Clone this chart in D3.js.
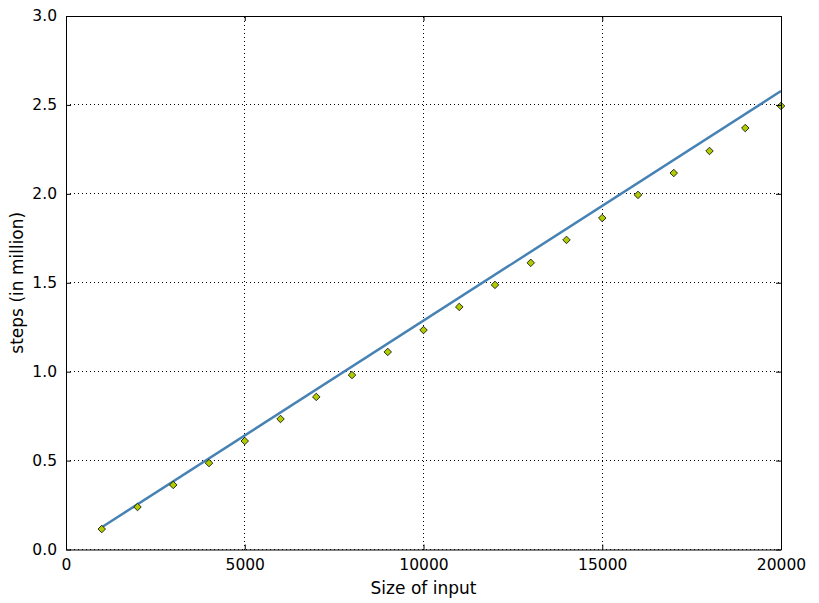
<!DOCTYPE html>
<html>
<head>
<meta charset="utf-8">
<script src="https://cdn.jsdelivr.net/npm/d3@7"></script>
<style>
  body { margin: 0; background: #fff; }
  svg { font-family: "DejaVu Sans", sans-serif; }
</style>
</head>
<body>
<svg id="chart"></svg>
<script>
const width = 819;
const height = 603;
const margin = {top: 16, right: 38, bottom: 53.5, left: 66};

// measured sizes (input) and steps (in million)
const sizes = [1000, 2000, 3000, 4000, 5000, 6000, 7000, 8000, 9000, 10000,
               11000, 12000, 13000, 14000, 15000, 16000, 17000, 18000, 19000, 20000];
const steps = [0.115, 0.239, 0.363, 0.486, 0.610, 0.734, 0.858, 0.981, 1.111, 1.234,
               1.364, 1.488, 1.612, 1.741, 1.864, 1.994, 2.117, 2.241, 2.370, 2.494];

// fitted line end points
const fitX = [1000, 20000];
const fitY = [0.125, 2.578];

const xTicks = [0, 5000, 10000, 15000, 20000];
const yTicks = [0.0, 0.5, 1.0, 1.5, 2.0, 2.5, 3.0];

const svg = d3.select('#chart')
    .attr('width', width)
    .attr('height', height);

const x = d3.scaleLinear().domain([0, 20000]).range([margin.left, width - margin.right]);
const y = d3.scaleLinear().domain([0, 3]).range([height - margin.bottom, margin.top]);

const plotW = width - margin.right - margin.left;
const plotH = height - margin.bottom - margin.top;

// grid
const grid = svg.append('g').attr('shape-rendering', 'crispEdges');
grid.selectAll('.vg').data(xTicks).enter().append('line')
    .attr('x1', d => x(d)).attr('x2', d => x(d))
    .attr('y1', y(0)).attr('y2', y(3))
    .attr('stroke', '#000').attr('stroke-width', 1)
    .attr('stroke-dasharray', '1,3');
grid.selectAll('.hg').data(yTicks).enter().append('line')
    .attr('x1', x(0)).attr('x2', x(20000))
    .attr('y1', d => y(d)).attr('y2', d => y(d))
    .attr('stroke', '#000').attr('stroke-width', 1)
    .attr('stroke-dasharray', '1,3');

// fit line
const line = d3.line().x(d => x(d[0])).y(d => y(d[1]));
svg.append('path')
    .datum(fitX.map((v, i) => [v, fitY[i]]))
    .attr('d', line)
    .attr('fill', 'none')
    .attr('stroke', '#4682b4')
    .attr('stroke-width', 2.5);

// markers
const diamond = d3.symbol().type(d3.symbolDiamond2).size(36);
svg.selectAll('.pt').data(sizes.map((s, i) => [s, steps[i]])).enter().append('path')
    .attr('d', diamond)
    .attr('transform', d => `translate(${x(d[0])},${y(d[1])})`)
    .attr('fill', '#b0cc00')
    .attr('stroke', '#000')
    .attr('stroke-width', 0.8);

// axes with inward ticks, on all four sides
const tickFont = '15.5px';
const xAxis = svg.append('g')
    .attr('transform', `translate(0,${y(0)})`)
    .call(d3.axisBottom(x).tickValues(xTicks).tickFormat(d3.format('d'))
        .tickSizeInner(-5).tickSizeOuter(0).tickPadding(9));
const xAxisTop = svg.append('g')
    .attr('transform', `translate(0,${y(3)})`)
    .call(d3.axisTop(x).tickValues(xTicks).tickFormat('')
        .tickSizeInner(-5).tickSizeOuter(0));
const yAxis = svg.append('g')
    .attr('transform', `translate(${x(0)},0)`)
    .call(d3.axisLeft(y).tickValues(yTicks).tickFormat(d3.format('.1f'))
        .tickSizeInner(-5).tickSizeOuter(0).tickPadding(9));
const yAxisRight = svg.append('g')
    .attr('transform', `translate(${x(20000)},0)`)
    .call(d3.axisRight(y).tickValues(yTicks).tickFormat('')
        .tickSizeInner(-5).tickSizeOuter(0));

[xAxis, xAxisTop, yAxis, yAxisRight].forEach(a => {
    a.select('.domain').attr('stroke', '#000').attr('stroke-width', 1);
    a.selectAll('.tick line').attr('stroke', '#000');
    a.selectAll('text')
        .attr('font-family', '"DejaVu Sans", sans-serif')
        .attr('font-size', tickFont)
        .attr('fill', '#000');
});

// axis labels
svg.append('text')
    .attr('x', margin.left + plotW / 2)
    .attr('y', 594)
    .attr('text-anchor', 'middle')
    .attr('font-size', '17px')
    .text('Size of input');

svg.append('text')
    .attr('transform', `translate(23,${margin.top + plotH / 2}) rotate(-90)`)
    .attr('text-anchor', 'middle')
    .attr('font-size', '17px')
    .text('steps (in million)');
</script>
</body>
</html>
